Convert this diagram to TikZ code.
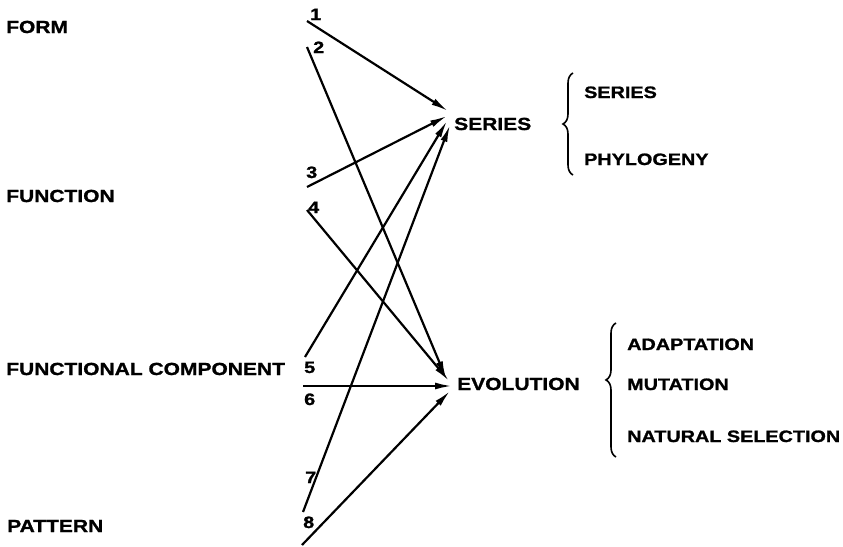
\documentclass[tikz,border=0pt]{standalone}
\usepackage{fontspec}
\setmainfont{Liberation Sans}[FakeStretch=1.2,BoldFeatures={FakeBold=1.2}]
\usetikzlibrary{arrows.meta,decorations.pathreplacing}
\begin{document}
\begin{tikzpicture}[x=1pt,y=-1pt,
  lbl/.style={anchor=base west,inner sep=0pt,font=\fontsize{17.5}{17.5}\selectfont\bfseries},
  rlbl/.style={anchor=base west,inner sep=0pt,font=\fontsize{16.5}{16.5}\selectfont\bfseries},
  num/.style={anchor=base west,inner sep=0pt,font=\fontsize{16.5}{16.5}\selectfont\bfseries},
  arr/.style={line width=2.2pt,-{Latex[length=17pt,width=7pt]}},
  br/.style={line width=1.6pt,decorate,decoration={brace,amplitude=10pt}}]
\useasboundingbox (0,0) rectangle (843,546);
% left labels
\node[lbl] (form) at (6,33) {FORM};
\node[lbl] (function) at (6,202) {FUNCTION};
\node[lbl] (fcomp) at (6,375) {FUNCTIONAL COMPONENT};
\node[lbl] (pattern) at (7,532) {PATTERN};
% numbers
\node[num] (n1) at (310,20) {1};
\node[num] (n2) at (313,53) {2};
\node[num] (n3) at (306,178) {3};
\node[num] (n4) at (308,213) {4};
\node[num] (n5) at (304,373) {5};
\node[num] (n6) at (304,405) {6};
\node[num] (n7) at (305,483) {7};
\node[num] (n8) at (303,528) {8};
% targets
\node[lbl] (series) at (454,130) {SERIES};
\node[lbl] (evolution) at (457,390) {EVOLUTION};
% right groups
\node[rlbl] (rseries) at (584,98) {SERIES};
\node[rlbl] (phylogeny) at (584,165) {PHYLOGENY};
\node[rlbl] (adaptation) at (627,350) {ADAPTATION};
\node[rlbl] (mutation) at (627,390) {MUTATION};
\node[rlbl] (natsel) at (627,442) {NATURAL SELECTION};
% line ends
\coordinate (a1) at (307,21);  \coordinate (t1) at (448,111);
\coordinate (a2) at (307,47);  \coordinate (t2) at (446,378);
\coordinate (a3) at (307,187); \coordinate (t3) at (447,116);
\coordinate (a4) at (307,210); \coordinate (t4) at (449,381);
\coordinate (a5) at (305,357); \coordinate (t5) at (447,121);
\coordinate (a6) at (303,386); \coordinate (t6) at (452,386);
\coordinate (a7) at (303,512); \coordinate (t7) at (450,125);
\coordinate (a8) at (302,545); \coordinate (t8) at (450,391);
\draw[arr] (a1) -- (t1);
\draw[arr] (a2) -- (t2);
\draw[arr] (a3) -- (t3);
\draw[arr] (a4) -- (t4);
\draw[arr] (a5) -- (t5);
\draw[arr] (a6) -- (t6);
\draw[arr] (a7) -- (t7);
\draw[arr] (a8) -- (t8);
% braces
\coordinate (b1s) at (573,175); \coordinate (b1e) at (573,73);
\coordinate (b2s) at (616,457); \coordinate (b2e) at (616,323);
\draw[br] (b1s) -- (b1e);
\draw[br,decoration={aspect=0.575}] (b2s) -- (b2e);
\end{tikzpicture}
\end{document}
